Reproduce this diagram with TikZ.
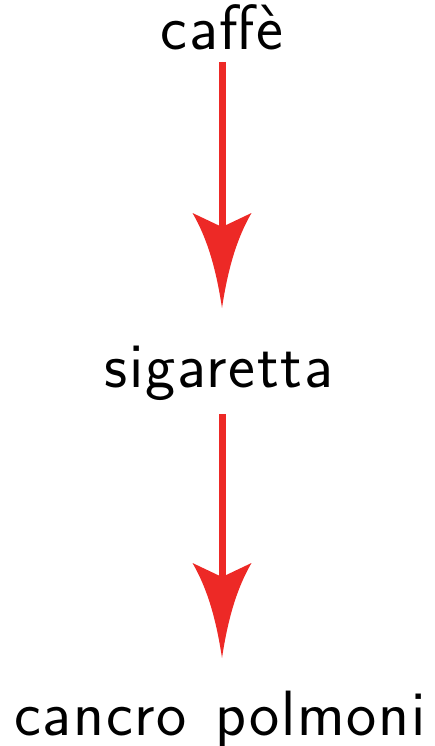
\documentclass[tikz,border=0pt]{standalone}
\usepackage{fontspec}
\usetikzlibrary{arrows.meta}

% Latin Modern Sans, display size, slightly tracked
\newfontfamily\labelfont[LetterSpace=2.7, WordSpace=1.3]{lmsans17-regular.otf}

\definecolor{arrowred}{RGB}{237,41,38}

% Long barbed head with slightly concave flanks
\pgfdeclarearrow{
  name = Barbed,
  setup code = {
    \pgfarrowssettipend{0pt}
    \pgfarrowssetbackend{-95pt}
    \pgfarrowssetlineend{-70pt}
    \pgfarrowshullpoint{0pt}{0pt}
    \pgfarrowshullpoint{-95pt}{29.5pt}
    \pgfarrowshullpoint{-95pt}{-29.5pt}
  },
  drawing code = {
    \pgfpathmoveto{\pgfpointorigin}
    \pgfpathcurveto{\pgfpoint{-40pt}{6pt}}{\pgfpoint{-70pt}{15pt}}{\pgfpoint{-95pt}{29.5pt}}
    \pgfpathlineto{\pgfpoint{-81pt}{0pt}}
    \pgfpathlineto{\pgfpoint{-95pt}{-29.5pt}}
    \pgfpathcurveto{\pgfpoint{-70pt}{-15pt}}{\pgfpoint{-40pt}{-6pt}}{\pgfpointorigin}
    \pgfpathclose
    \pgfusepathqfill
  }
}

\tikzset{
  label/.style={inner sep=0pt, anchor=base, font=\labelfont\fontsize{64}{72}\selectfont},
  link/.style={draw=arrowred, fill=arrowred, line width=7pt, -{Barbed}}
}

\begin{document}
\begin{tikzpicture}[x=1pt, y=1pt]
  \useasboundingbox (0,0) rectangle (435,-746);

  \node[label] (caffe) at (222,-50) {caffè};
  \node[label] (sig)   at (219,-387) {sigaretta};
  \node[label] (canc)  at (220,-735) {cancro polmoni};

  \draw[link, shorten <=12pt, shorten >=79pt] (caffe.base) -- (caffe.base |- sig.base);
  \draw[link, shorten <=27pt, shorten >=77pt] (caffe.base |- sig.base) -- (caffe.base |- canc.base);
\end{tikzpicture}
\end{document}
